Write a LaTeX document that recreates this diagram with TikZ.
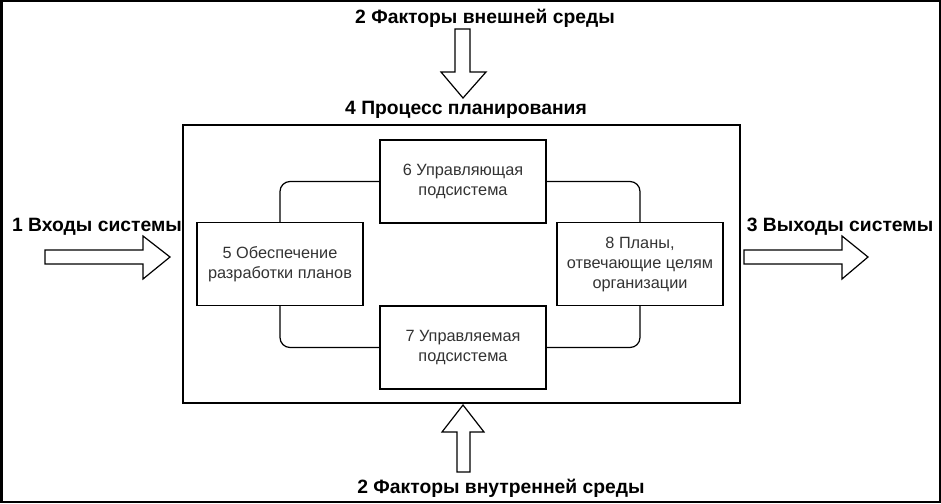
\documentclass[tikz,border=0pt]{standalone}
\usepackage{fontspec}
\setmainfont{Liberation Sans}
\usetikzlibrary{positioning}
\tikzset{
  font={\fontsize{16.3pt}{20pt}\selectfont}}

\begin{document}
\begin{tikzpicture}[x=1pt,y=-1pt]
\tikzstyle{block}=[draw=black, line width=1.2pt, align=center, inner sep=0pt, minimum width=166pt, minimum height=83pt, text=black!80]
\tikzstyle{title}=[font={\fontsize{19.3pt}{23pt}\selectfont\bfseries}, inner sep=0pt]
\tikzstyle{fatarrow}=[draw=black, line width=1.2pt, fill=white, line join=miter]
\tikzstyle{link}=[draw=black, line width=1.2pt, rounded corners=10pt]
\useasboundingbox (0,0) rectangle (941,503);
\draw [black, line width=2.5pt] (1.25,1.25) rectangle (939.75,501.75);
% planning process
\node [draw=black, line width=1.2pt, minimum width=557pt, minimum height=278pt, inner sep=0pt] (proc) at (461.5,264) {};
\node [title] (proctitle) at (466,110) {4 Процесс планирования};
\node [block] (b6) at (463,181.5) {6 Управляющая\\подсистема};
\node [block] (b5) at (280,264) {5 Обеспечение\\разработки планов};
\node [block] (b8) at (640,264) {8 Планы,\\отвечающие целям\\организации};
\node [block] (b7) at (463,347.5) {7 Управляемая\\подсистема};
\draw [link] (b5.north) |- (b6.west);
\draw [link] (b6.east) -| (b8.north);
\draw [link] (b5.south) |- (b7.west);
\draw [link] (b7.east) -| (b8.south);
% environment
\node [title] (ext) at (485,18) {2 Факторы внешней среды};
\node [title] (int) at (501,488) {2 Факторы внутренней среды};
\node [title] (inp) at (97,227) {1 Входы системы};
\node [title] (out) at (840,227) {3 Выходы системы};
\draw [fatarrow] (455,29) -- (470,29) -- (470,72) -- (486,72) -- (463,98) -- (441,72) -- (455,72) -- cycle;
\draw [fatarrow] (457,472) -- (470,472) -- (470,432) -- (484,432) -- (463,405) -- (442,432) -- (457,432) -- cycle;
\draw [fatarrow] (45,250) -- (143,250) -- (143,236) -- (170,257) -- (143,279) -- (143,264) -- (45,264) -- cycle;
\draw [fatarrow] (744,250) -- (842,250) -- (842,236) -- (868,257) -- (842,279) -- (842,264) -- (744,264) -- cycle;
\end{tikzpicture}
\end{document}
